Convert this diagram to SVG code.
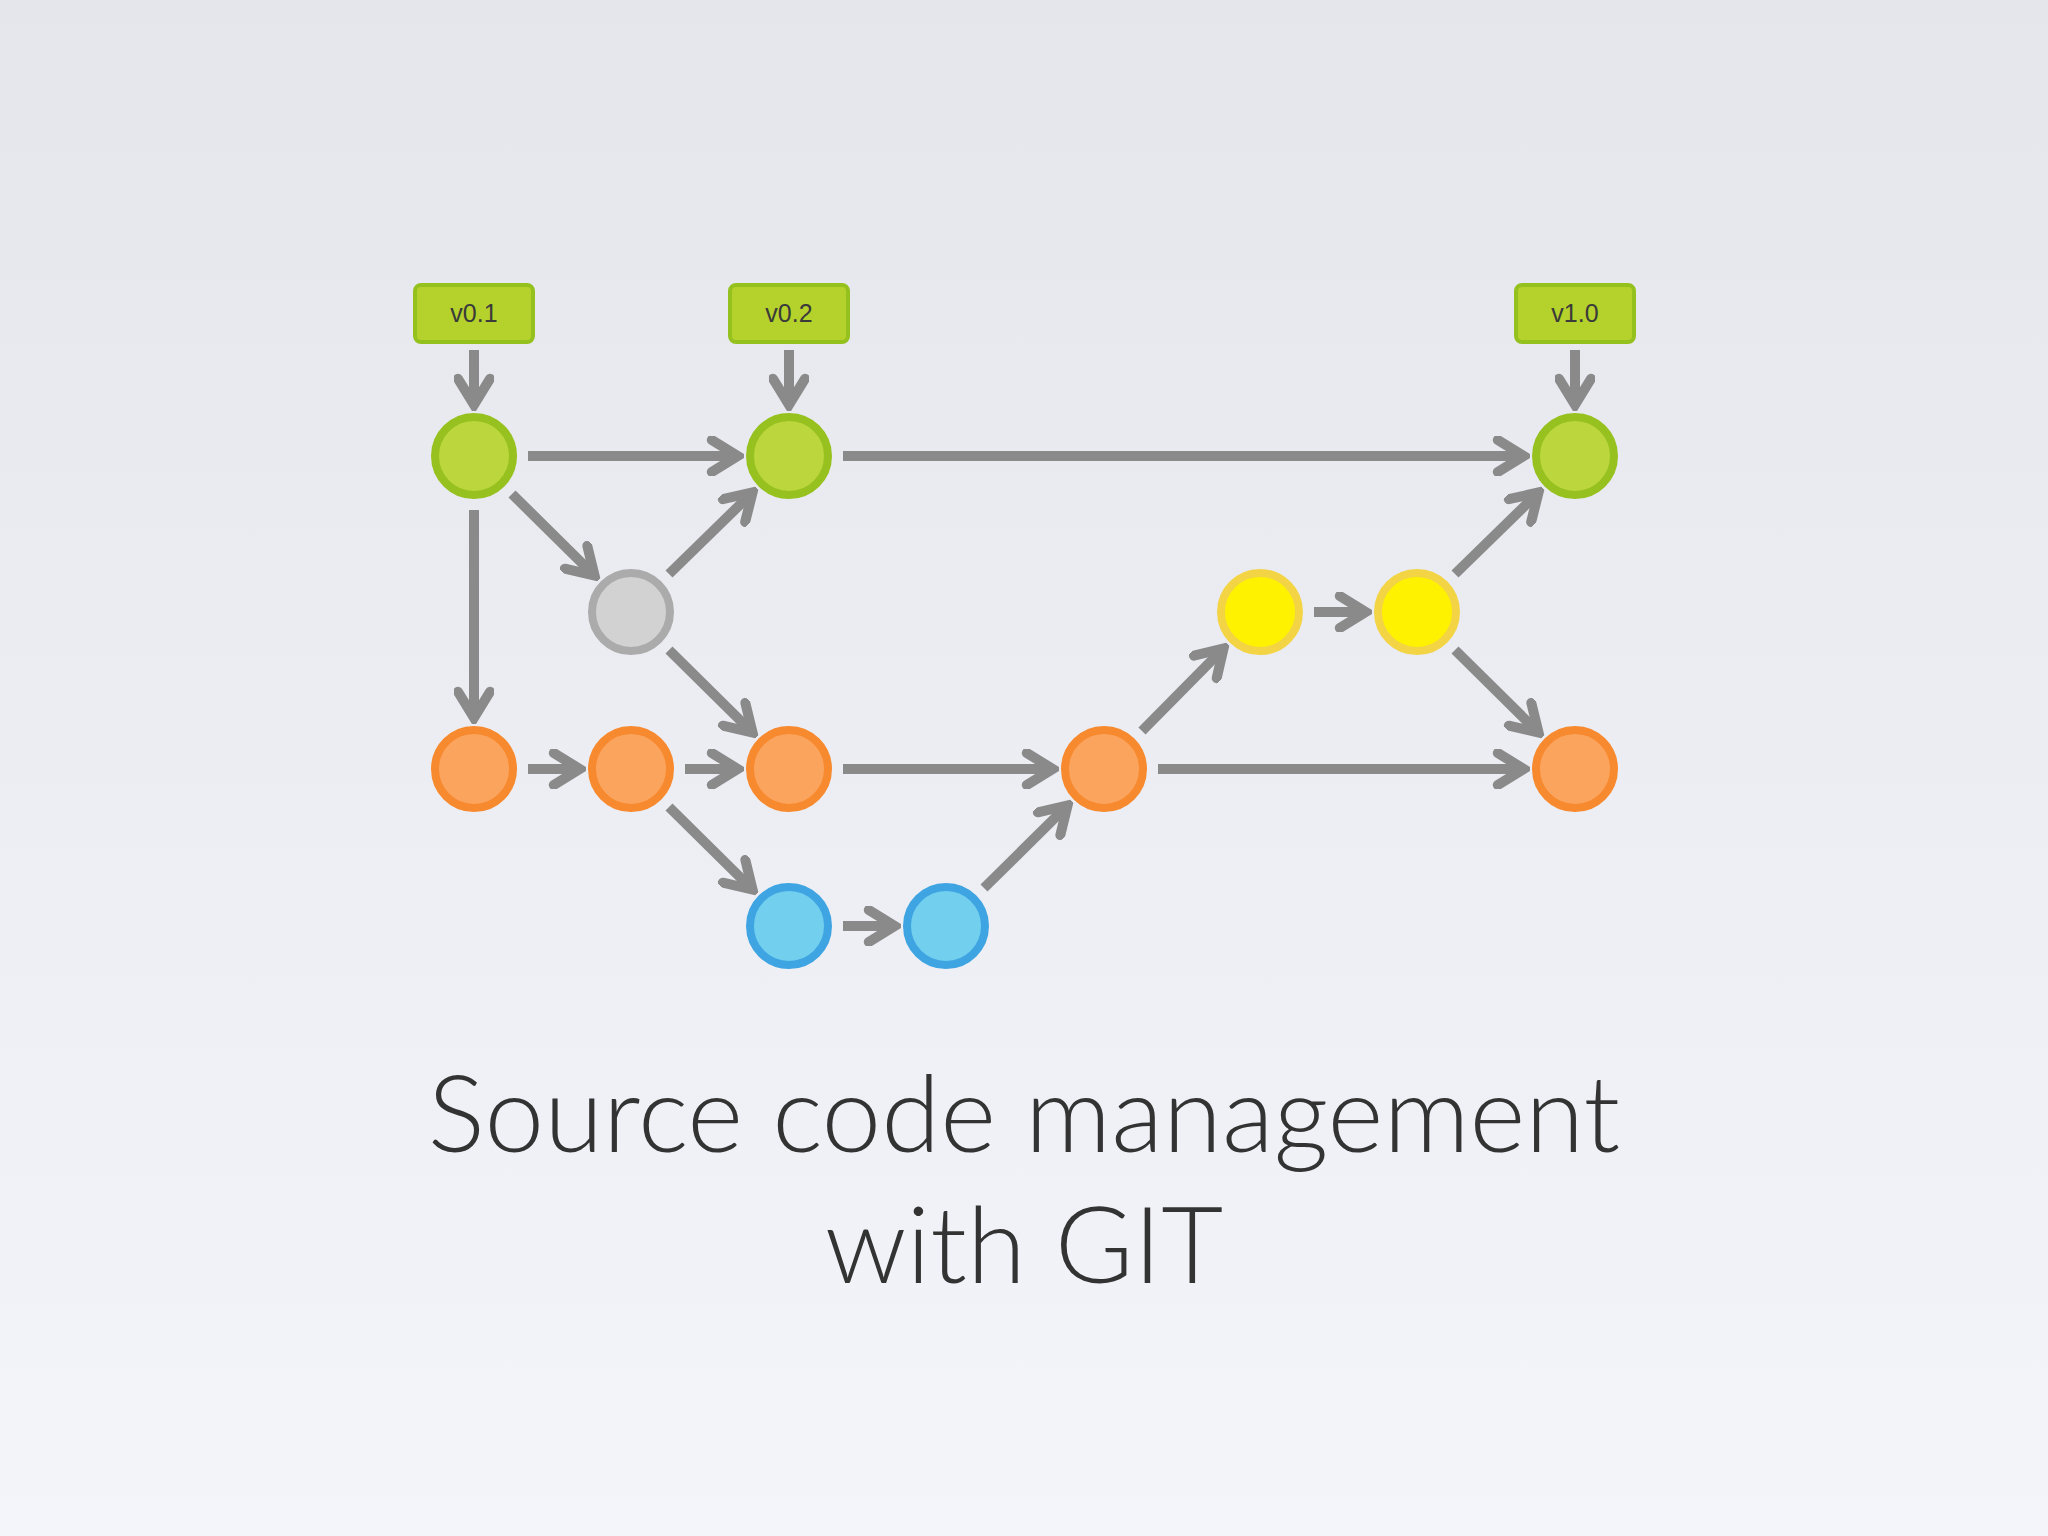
<svg xmlns="http://www.w3.org/2000/svg" width="2048" height="1536" viewBox="0 0 2048 1536">
<defs>
<linearGradient id="bg" x1="0" y1="0" x2="0" y2="1"><stop offset="0" stop-color="#e4e6eb"/><stop offset="1" stop-color="#f4f5fa"/></linearGradient>
<marker id="ah" viewBox="0 0 10 10" refX="8.3" refY="5" markerWidth="4" markerHeight="4" orient="auto" markerUnits="strokeWidth">
<path d="M2,1 L8.5,5 L2,9" fill="none" stroke="#8a8a8a" stroke-width="2.5" stroke-linecap="round" stroke-linejoin="miter"/>
</marker>
</defs>
<style>
.e{stroke:#8a8a8a;stroke-width:10;fill:none;marker-end:url(#ah)}
.n{stroke-width:8}
.g{fill:#bcd63e;stroke:#96c11f}
.gr{fill:#d2d2d2;stroke:#ababab}
.o{fill:#fba45e;stroke:#f7892f}
.y{fill:#fff200;stroke:#f2d445}
.b{fill:#72d0ee;stroke:#3fa4e2}
.tag{fill:#b5d12c;stroke:#95c11f;stroke-width:4}
.tt{font-family:"Liberation Sans",Arial,sans-serif;font-size:25px;fill:#3a3a3a;text-anchor:middle}
.title{font-family:Lato,"Open Sans",sans-serif;font-weight:300;font-size:107px;fill:#333;text-anchor:middle}
</style>
<rect width="2048" height="1536" fill="url(#bg)"/>
<g id="connectors">
<line class="e" x1="474" y1="350" x2="474" y2="404"/>
<line class="e" x1="789" y1="350" x2="789" y2="404"/>
<line class="e" x1="1575" y1="350" x2="1575" y2="404"/>
<line class="e" x1="528" y1="456" x2="737" y2="456"/>
<line class="e" x1="843" y1="456" x2="1523" y2="456"/>
<line class="e" x1="528" y1="769" x2="579" y2="769"/>
<line class="e" x1="685" y1="769" x2="737" y2="769"/>
<line class="e" x1="843" y1="769" x2="1052" y2="769"/>
<line class="e" x1="1158" y1="769" x2="1523" y2="769"/>
<line class="e" x1="1314" y1="612" x2="1365" y2="612"/>
<line class="e" x1="843" y1="926" x2="894" y2="926"/>
<line class="e" x1="474" y1="510" x2="474" y2="717"/>
<line class="e" x1="512" y1="494" x2="594" y2="575"/>
<line class="e" x1="669" y1="574" x2="752" y2="493"/>
<line class="e" x1="669" y1="650" x2="752" y2="732"/>
<line class="e" x1="669" y1="807" x2="752" y2="889"/>
<line class="e" x1="984" y1="888" x2="1067" y2="806"/>
<line class="e" x1="1142" y1="731" x2="1223" y2="649"/>
<line class="e" x1="1455" y1="574" x2="1538" y2="493"/>
<line class="e" x1="1455" y1="650" x2="1538" y2="732"/>
</g>
<g id="tag-v01"><rect class="tag" x="415" y="285" width="118" height="57" rx="6"/><text class="tt" x="474" y="322">v0.1</text></g>
<g id="tag-v02"><rect class="tag" x="730" y="285" width="118" height="57" rx="6"/><text class="tt" x="789" y="322">v0.2</text></g>
<g id="tag-v10"><rect class="tag" x="1516" y="285" width="118" height="57" rx="6"/><text class="tt" x="1575" y="322">v1.0</text></g>
<g id="g1"><circle class="n g" cx="474" cy="456" r="39"/></g>
<g id="g2"><circle class="n g" cx="789" cy="456" r="39"/></g>
<g id="g3"><circle class="n g" cx="1575" cy="456" r="39"/></g>
<g id="gray"><circle class="n gr" cx="631" cy="612" r="39"/></g>
<g id="y1"><circle class="n y" cx="1260" cy="612" r="39"/></g>
<g id="y2"><circle class="n y" cx="1417" cy="612" r="39"/></g>
<g id="o1"><circle class="n o" cx="474" cy="769" r="39"/></g>
<g id="o2"><circle class="n o" cx="631" cy="769" r="39"/></g>
<g id="o3"><circle class="n o" cx="789" cy="769" r="39"/></g>
<g id="o4"><circle class="n o" cx="1104" cy="769" r="39"/></g>
<g id="o5"><circle class="n o" cx="1575" cy="769" r="39"/></g>
<g id="b1"><circle class="n b" cx="789" cy="926" r="39"/></g>
<g id="b2"><circle class="n b" cx="946" cy="926" r="39"/></g>
<g id="title">
<text class="title" x="1024" y="1152">Source code management</text>
<text class="title" x="1024" y="1283">with GIT</text>
</g>
</svg>
